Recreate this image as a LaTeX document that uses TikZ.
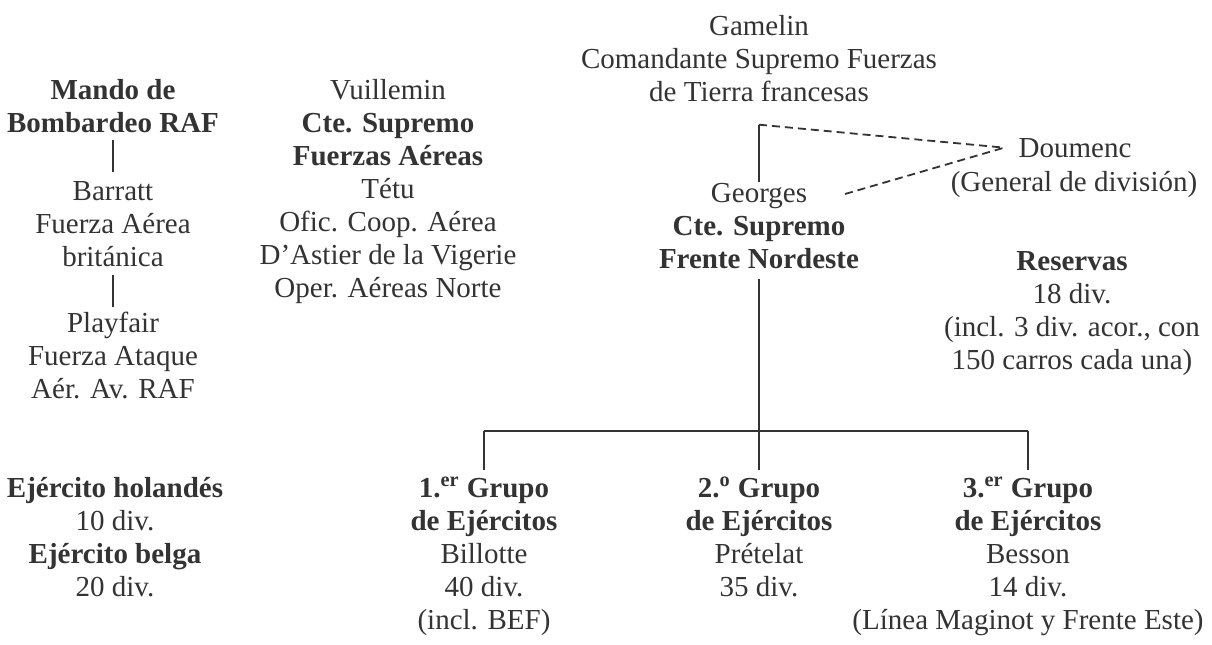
\documentclass[tikz,border=0pt]{standalone}
\usepackage{fontspec}
\setmainfont{Liberation Serif}
\definecolor{ink}{HTML}{333333}
\begin{document}
\begin{tikzpicture}[x=0.5pt,y=-0.5pt,
  txt/.style={align=center, inner sep=0pt, anchor=base, text=ink, font=\fontsize{14.5}{16.5}\selectfont},
  link/.style={draw=ink, line width=1.1pt},
  dashlink/.style={draw=ink, line width=0.9pt, dash pattern=on 4pt off 2.5pt}]
\useasboundingbox (0,0) rectangle (1212,644);
\fill[white] (0,0) rectangle (1212,644);

% anchor=base is the baseline of the last line of each block
\node[txt] (gamelin) at (759,101) {Gamelin\\Comandante Supremo Fuerzas\\de Tierra francesas};
\node[txt] (mando) at (113,132) {\textbf{Mando de}\\\textbf{Bombardeo RAF}};
\node[txt] (barratt) at (113,266) {Barratt\\Fuerza Aérea\\británica};
\node[txt] (playfair) at (113,398) {Playfair\\Fuerza Ataque\\Aér. Av. RAF};
\node[txt] (ejerc) at (115,596) {\textbf{Ejército holandés}\\10 div.\\\textbf{Ejército belga}\\20 div.};
\node[txt] (vuill) at (388,297) {Vuillemin\\\textbf{Cte. Supremo}\\\textbf{Fuerzas Aéreas}\\Tétu\\Ofic. Coop. Aérea\\D’Astier de la Vigerie\\Oper. Aéreas Norte};
\node[txt] (georges) at (759,268) {Georges\\\textbf{Cte. Supremo}\\\textbf{Frente Nordeste}};
\node[txt] (doumenc) at (1075,157) {Doumenc};
\node[txt] (general) at (1074,191) {(General de división)};
\node[txt] (reservas) at (1072,369) {\textbf{Reservas}\\18 div.\\(incl. 3 div. acor., con\\150 carros cada una)};
\node[txt] (g1) at (484,629) {\textbf{1.\textsuperscript{er} Grupo}\\\textbf{de Ejércitos}\\Billotte\\40 div.\\(incl. BEF)};
\node[txt] (g2) at (759,596) {\textbf{2.\textsuperscript{o} Grupo}\\\textbf{de Ejércitos}\\Prételat\\35 div.};
\node[txt] (g3) at (1028,629) {\textbf{3.\textsuperscript{er} Grupo}\\\textbf{de Ejércitos}\\Besson\\14 div.\\(Línea Maginot y Frente Este)};

% left column links
\draw[link] ([yshift=-3.5pt]mando.south) -- ([yshift=4.5pt]mando.south |- barratt.north);
\draw[link] ([yshift=-4pt]barratt.south) -- ([yshift=2pt]barratt.south |- playfair.north);

% Gamelin - Georges bracket and Doumenc
\coordinate (brk) at ([yshift=-11.5pt]gamelin.south);
\draw[link] (brk) -- (brk |- georges.north);
\coordinate (dtip) at ([xshift=-7pt]doumenc.west);
\coordinate (dstart) at ([xshift=43pt,yshift=37pt]georges.base);
\draw[dashlink] (brk) -- (dtip);
\draw[dashlink] (dstart) -- (dtip);

% tree to army groups
\coordinate (hb) at (759,431);
\draw[link] ([yshift=-5pt]georges.south) -- (georges.south |- hb);
\draw[link] (g1.north |- hb) -- (g3.north |- hb);
\draw[link] (g1.north |- hb) -- ([yshift=3.5pt]g1.north);
\draw[link] (hb) -- ([yshift=3.5pt]g2.north);
\draw[link] (g3.north |- hb) -- ([yshift=3.5pt]g3.north);
\end{tikzpicture}
\end{document}
